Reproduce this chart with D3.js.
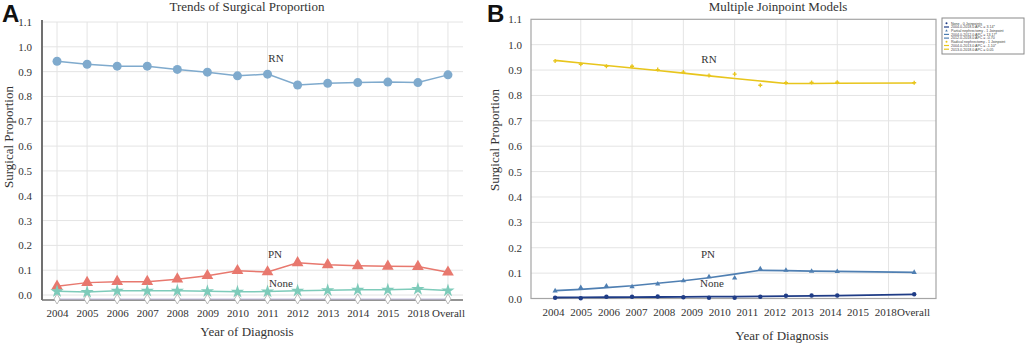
<!DOCTYPE html>
<html>
<head>
<meta charset="utf-8">
<script src="https://cdn.jsdelivr.net/npm/d3@7"></script>
<style>
  body { margin: 0; background: #fff; }
</style>
</head>
<body>
<div id="chart"></div>
<script>
// category labels shared by both panels
const years = ["2004", "2005", "2006", "2007", "2008", "2009", "2010", "2011", "2012", "2013", "2014", "2015", "2018", "Overall"];
const yTicks = [0.0, 0.1, 0.2, 0.3, 0.4, 0.5, 0.6, 0.7, 0.8, 0.9, 1.0, 1.1];

// Panel A: observed proportions
const rnA   = [0.942, 0.930, 0.922, 0.922, 0.909, 0.898, 0.883, 0.890, 0.846, 0.853, 0.856, 0.858, 0.856, 0.887];
const pnA   = [0.035, 0.050, 0.054, 0.054, 0.064, 0.078, 0.098, 0.093, 0.130, 0.122, 0.118, 0.116, 0.115, 0.092];
const noneA = [0.015, 0.012, 0.017, 0.017, 0.017, 0.015, 0.013, 0.014, 0.017, 0.019, 0.021, 0.021, 0.024, 0.018];
const baseA = [-0.016, -0.016, -0.016, -0.016, -0.016, -0.016, -0.016, -0.016, -0.016, -0.016, -0.016, -0.016, -0.016, -0.016];

// Panel B: joinpoint positions (index on the model's x axis), observed and fitted values
const xB      = [0, 1, 2, 3, 4, 5, 6, 7, 8, 9, 10, 11, 14];
const rnObs   = [0.936, 0.923, 0.915, 0.915, 0.902, 0.892, 0.879, 0.884, 0.840, 0.850, 0.851, 0.852, 0.850];
const rnFit   = [0.938, 0.928, 0.918, 0.908, 0.898, 0.888, 0.877, 0.867, 0.857, 0.847, 0.847, 0.848, 0.849];
const pnObs   = [0.030, 0.043, 0.049, 0.046, 0.057, 0.070, 0.086, 0.081, 0.117, 0.111, 0.107, 0.106, 0.103];
const pnFit   = [0.031, 0.036, 0.043, 0.050, 0.060, 0.070, 0.082, 0.096, 0.111, 0.110, 0.108, 0.107, 0.103];
const noneObs = [0.003, 0.001, 0.007, 0.007, 0.008, 0.005, 0.003, 0.003, 0.007, 0.011, 0.012, 0.012, 0.017];
const noneFit = [0.004, 0.0045, 0.005, 0.0055, 0.006, 0.0065, 0.007, 0.0075, 0.008, 0.009, 0.010, 0.011, 0.016];
const gridB   = [1, 3, 5, 7, 9, 11, 13];

const legendRows = [
  { text: "None - 0 Joinpoints", kind: "dot", color: "#1f3c86" },
  { text: "2004.0-2018.0 APC = 3.14*", kind: "line", color: "#1f3c86" },
  { text: "Partial nephrectomy - 1 Joinpoint", kind: "tri", color: "#4f7fb2" },
  { text: "2004.0-2012.0 APC = 13.17*", kind: "line", color: "#4f7fb2" },
  { text: "2012.0-2018.0 APC = -0.70", kind: "line", color: "#4f7fb2" },
  { text: "Radical nephrectomy - 1 Joinpoint", kind: "dot", color: "#e8c51c" },
  { text: "2004.0-2013.0 APC = -1.10*", kind: "line", color: "#e8c51c" },
  { text: "2013.0-2018.0 APC = 0.05", kind: "line", color: "#e8c51c" }
];

const width = 1026, height = 345;
const serif = "'Liberation Serif', 'Times New Roman', serif";
const sans = "'Liberation Sans', Arial, sans-serif";

const svg = d3.select("#chart").append("svg")
  .attr("width", width)
  .attr("height", height);

const gridColor = "#e4e4e4";

// helper for plain serif text
function label(g, x, y, txt, size, anchor = "middle") {
  return g.append("text")
    .attr("x", x).attr("y", y)
    .attr("text-anchor", anchor)
    .style("font-family", serif)
    .style("font-size", size + "px")
    .style("fill", "#333")
    .text(txt);
}

// ---------------- Panel A ----------------
const xA = d3.scalePoint().domain(years).range([42, 463]).padding(0.5);
const yA = d3.scaleLinear().domain([-0.02, 1.1]).range([300, 22]);

const gA = svg.append("g");

// grid
gA.selectAll("line.hgrid").data(yTicks).enter().append("line")
  .attr("x1", 42).attr("x2", 463)
  .attr("y1", d => yA(d)).attr("y2", d => yA(d))
  .attr("stroke", gridColor);
gA.selectAll("line.vgrid").data(years).enter().append("line")
  .attr("x1", d => xA(d)).attr("x2", d => xA(d))
  .attr("y1", yA(1.1)).attr("y2", yA(-0.02))
  .attr("stroke", gridColor);

// y tick labels
gA.append("g")
  .attr("transform", "translate(42,0)")
  .call(d3.axisLeft(yA).tickValues(yTicks).tickFormat(d3.format(".1f")).tickSize(0).tickPadding(10))
  .call(g => g.select(".domain").remove())
  .selectAll("text")
  .style("font-family", serif).style("font-size", "11px").style("fill", "#333");

// x tick labels
gA.append("g")
  .attr("transform", "translate(0,300)")
  .call(d3.axisBottom(xA).tickSize(0).tickPadding(9))
  .call(g => g.select(".domain").remove())
  .selectAll("text")
  .style("font-family", serif).style("font-size", "11px").style("fill", "#333");

// series
const lineA = vals => d3.line().x((d, i) => xA(years[i])).y(d => yA(d))(vals);

gA.append("path").attr("d", lineA(rnA)).attr("fill", "none").attr("stroke", "#7faacd").attr("stroke-width", 1.5);
gA.append("path").attr("d", lineA(pnA)).attr("fill", "none").attr("stroke", "#e8786e").attr("stroke-width", 1.5);
gA.append("path").attr("d", lineA(noneA)).attr("fill", "none").attr("stroke", "#7ecbba").attr("stroke-width", 1.5);

// axis lines
gA.append("line").attr("x1", 42).attr("x2", 42).attr("y1", 20).attr("y2", 300)
  .attr("stroke", "#707070").attr("stroke-width", 2);
gA.append("line").attr("x1", 42).attr("x2", 463).attr("y1", 300).attr("y2", 300)
  .attr("stroke", "#707070").attr("stroke-width", 1.5);
// lavender base line over the axis
gA.append("path").attr("d", lineA(baseA)).attr("fill", "none").attr("stroke", "#c4bedf").attr("stroke-width", 1.2);

gA.selectAll("path.diamond").data(baseA).enter().append("path")
  .attr("transform", (d, i) => `translate(${xA(years[i])},${yA(d)})`)
  .attr("d", "M0,-5L3,0L0,5L-3,0Z")
  .attr("fill", "#fff").attr("stroke", "#a9a9a9").attr("stroke-width", 0.8);

gA.selectAll("circle.rn").data(rnA).enter().append("circle")
  .attr("cx", (d, i) => xA(years[i])).attr("cy", d => yA(d))
  .attr("r", 4.5).attr("fill", "#7faacd");

gA.selectAll("path.pn").data(pnA).enter().append("path")
  .attr("transform", (d, i) => `translate(${xA(years[i])},${yA(d)})`)
  .attr("d", d3.symbol(d3.symbolTriangle, 60))
  .attr("fill", "#e8786e");

gA.selectAll("path.none").data(noneA).enter().append("path")
  .attr("transform", (d, i) => `translate(${xA(years[i])},${yA(d)})`)
  .attr("d", d3.symbol(d3.symbolStar, 55))
  .attr("fill", "#7ecbba");

// series labels
label(gA, 276, 62, "RN", 11);
label(gA, 275, 258, "PN", 11);
label(gA, 281, 287, "None", 11);

// titles
label(gA, 247, 11, "Trends of Surgical Proportion", 13);
label(gA, 247, 336, "Year of Diagnosis", 13);
label(gA, 0, 0, "Surgical Proportion", 13).attr("transform", "translate(13,137) rotate(-90)");
gA.append("text").attr("x", 2).attr("y", 22)
  .style("font-family", sans).style("font-weight", "bold").style("font-size", "24px").style("fill", "#111")
  .text("A");

// ---------------- Panel B ----------------
const xBscale = d3.scaleLinear().domain([-0.94, 14.85]).range([531, 936]);
const yB = d3.scaleLinear().domain([0, 1.1]).range([298.5, 19.3]);
const xLabB = d3.scalePoint().domain(years).range([553, 913]);

const gB = svg.append("g");

gB.selectAll("line.hgrid").data(yTicks.slice(1, -1)).enter().append("line")
  .attr("x1", 531).attr("x2", 936)
  .attr("y1", d => yB(d)).attr("y2", d => yB(d))
  .attr("stroke", gridColor);
gB.selectAll("line.vgrid").data(gridB).enter().append("line")
  .attr("x1", d => xBscale(d)).attr("x2", d => xBscale(d))
  .attr("y1", yB(1.1)).attr("y2", yB(0))
  .attr("stroke", gridColor);

gB.append("rect")
  .attr("x", 531).attr("y", yB(1.1))
  .attr("width", 936 - 531).attr("height", yB(0) - yB(1.1))
  .attr("fill", "none").attr("stroke", "#a5a5a5").attr("stroke-width", 1.2);

gB.append("g")
  .attr("transform", "translate(531,0)")
  .call(d3.axisLeft(yB).tickValues(yTicks).tickFormat(d3.format(".1f")).tickSize(0).tickPadding(9))
  .call(g => g.select(".domain").remove())
  .selectAll("text")
  .style("font-family", serif).style("font-size", "11px").style("fill", "#333");

gB.append("g")
  .attr("transform", "translate(0,299)")
  .call(d3.axisBottom(xLabB).tickSize(0).tickPadding(9))
  .call(g => g.select(".domain").remove())
  .selectAll("text")
  .style("font-family", serif).style("font-size", "11px").style("fill", "#333");

const lineB = vals => d3.line().x((d, i) => xBscale(xB[i])).y(d => yB(d))(vals);

gB.append("path").attr("d", lineB(rnFit)).attr("fill", "none").attr("stroke", "#e8c51c").attr("stroke-width", 1.6);
gB.append("path").attr("d", lineB(pnFit)).attr("fill", "none").attr("stroke", "#4f7fb2").attr("stroke-width", 1.6);
gB.append("path").attr("d", lineB(noneFit)).attr("fill", "none").attr("stroke", "#1f3c86").attr("stroke-width", 1.8);

gB.selectAll("path.rn").data(rnObs).enter().append("path")
  .attr("transform", (d, i) => `translate(${xBscale(xB[i])},${yB(d)})`)
  .attr("d", d3.symbol(d3.symbolCross, 9))
  .attr("fill", "#e8c51c");

gB.selectAll("path.pn").data(pnObs).enter().append("path")
  .attr("transform", (d, i) => `translate(${xBscale(xB[i])},${yB(d)})`)
  .attr("d", d3.symbol(d3.symbolTriangle, 12))
  .attr("fill", "#4f7fb2");

gB.selectAll("circle.none").data(noneObs).enter().append("circle")
  .attr("cx", (d, i) => xBscale(xB[i])).attr("cy", d => yB(d))
  .attr("r", 2.2).attr("fill", "#1f3c86");

label(gB, 709, 63, "RN", 11);
label(gB, 708, 258, "PN", 11);
label(gB, 712, 287, "None", 11);

label(gB, 778, 11, "Multiple Joinpoint Models", 13);
label(gB, 782, 340, "Year of Diagnosis", 13);
label(gB, 0, 0, "Surgical Proportion", 13).attr("transform", "translate(499,140) rotate(-90)");
gB.append("text").attr("x", 487).attr("y", 22)
  .style("font-family", sans).style("font-weight", "bold").style("font-size", "24px").style("fill", "#111")
  .text("B");

// legend
const leg = gB.append("g").attr("transform", "translate(942,18)");
leg.append("rect").attr("width", 82).attr("height", 36)
  .attr("fill", "#fff").attr("stroke", "#8a8a8a").attr("stroke-width", 1);
const rows = leg.selectAll("g.row").data(legendRows).enter().append("g")
  .attr("transform", (d, i) => `translate(0,${5.3 + i * 3.7})`);
rows.filter(d => d.kind === "line").append("line")
  .attr("x1", 2).attr("x2", 7).attr("y1", 0).attr("y2", 0)
  .attr("stroke", d => d.color).attr("stroke-width", 1.2);
rows.filter(d => d.kind === "dot").append("circle")
  .attr("cx", 4.5).attr("cy", 0).attr("r", 1).attr("fill", d => d.color);
rows.filter(d => d.kind === "tri").append("path")
  .attr("transform", "translate(4.5,0)")
  .attr("d", d3.symbol(d3.symbolTriangle, 3)).attr("fill", d => d.color);
rows.append("text")
  .attr("x", 9).attr("y", 1.3)
  .style("font-family", sans).style("font-size", "3.6px").style("fill", "#444")
  .text(d => d.text);
</script>
</body>
</html>
